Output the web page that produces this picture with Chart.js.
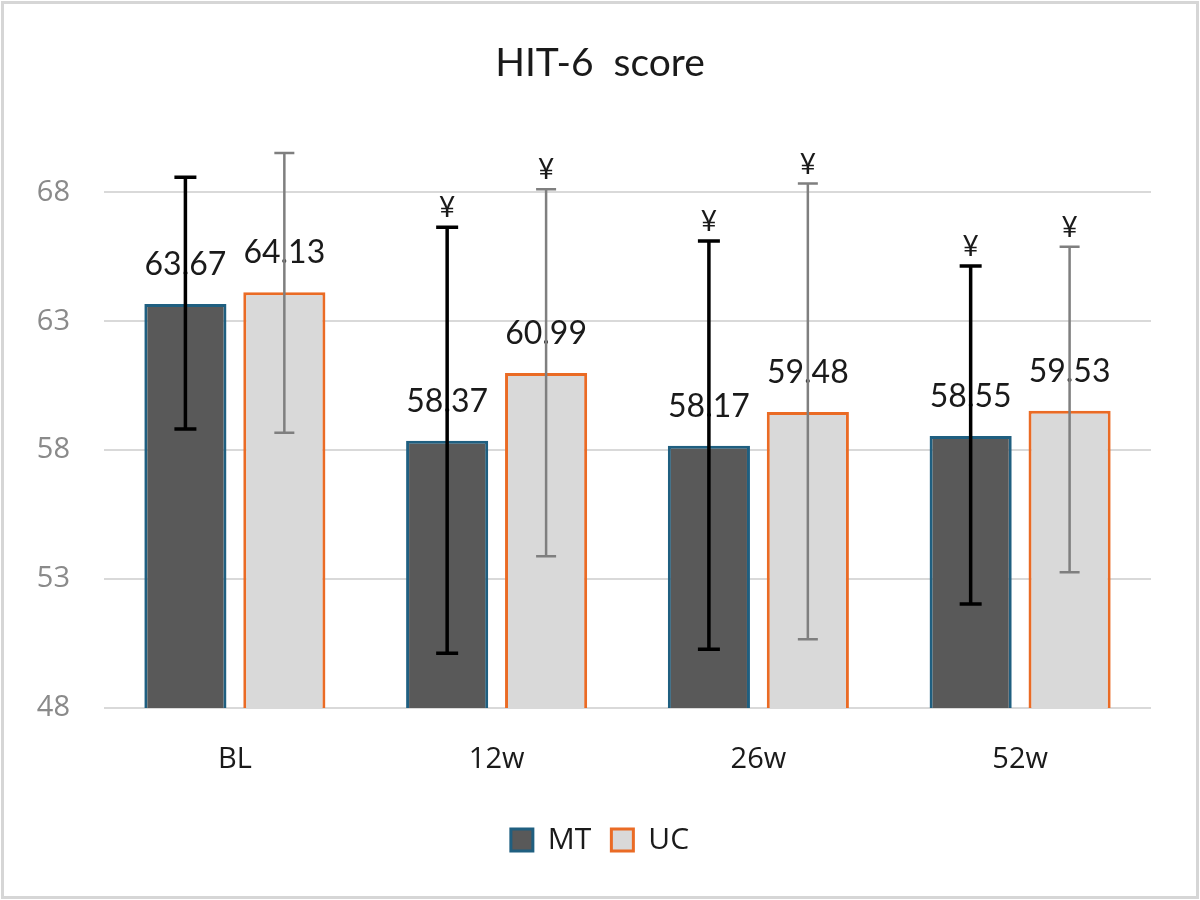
<!DOCTYPE html>
<html>
<head>
<meta charset="utf-8">
<title>HIT-6 score</title>
<script src="https://cdn.jsdelivr.net/npm/chart.js@4.4.1/dist/chart.umd.min.js"></script>
<style>
  html, body { margin: 0; padding: 0; background: #fff; }
  .wrap { position: relative; width: 1200px; height: 900px; }
  .wrap canvas { position: absolute; left: 0; top: 0; }
  .frame {
    position: absolute; left: 1px; top: 1px; width: 1192px; height: 892px;
    border: 3px solid #d6d6d6; pointer-events: none;
  }
</style>
</head>
<body>
<div class="wrap">
  <canvas id="chart-hit6" width="1200" height="900"></canvas>
  <div class="frame"></div>
</div>
<script>
  // values
  var CATEGORIES = ['BL', '12w', '26w', '52w'];
  var MT_MEAN = [63.67, 58.37, 58.17, 58.55];
  var UC_MEAN = [64.13, 60.99, 59.48, 59.53];
  var MT_LOW = [58.82, 50.12, 50.28, 52.03];
  var MT_HIGH = [68.59, 66.65, 66.11, 65.14];
  var UC_LOW = [58.68, 53.89, 50.67, 53.27];
  var UC_HIGH = [69.53, 68.12, 68.34, 65.89];
  var MT_MARK = ['', '¥', '¥', '¥'];
  var UC_MARK = ['', '¥', '¥', '¥'];
  var Y_TICKS = [48, 53, 58, 63, 68];

  var LABEL_FONT = 'Lato, "Open Sans", sans-serif';
  var AXIS_FONT = '"Open Sans", "Noto Sans", sans-serif';

  // value labels, then error bars and ¥ marks over them
  var barExtras = {
    id: 'barExtras',
    afterDatasetsDraw: function (chart) {
      var ctx = chart.ctx;
      var y = chart.scales.y;
      chart.data.datasets.forEach(function (ds, di) {
        var meta = chart.getDatasetMeta(di);
        meta.data.forEach(function (bar, i) {
          ctx.save();
          ctx.font = '32px ' + LABEL_FONT;
          ctx.fillStyle = '#1a1a1a';
          ctx.textAlign = 'center';
          ctx.textBaseline = 'middle';
          ctx.fillText(ds.data[i].toFixed(2), bar.x, bar.y - 39);
          ctx.restore();
        });
      });
      chart.data.datasets.forEach(function (ds, di) {
        var meta = chart.getDatasetMeta(di);
        var err = ds.errorBars;
        meta.data.forEach(function (bar, i) {
          var top = y.getPixelForValue(err.high[i]);
          var bot = y.getPixelForValue(err.low[i]);
          ctx.save();
          ctx.strokeStyle = err.color;
          ctx.lineWidth = err.width;
          ctx.beginPath();
          ctx.moveTo(bar.x, top);
          ctx.lineTo(bar.x, bot);
          ctx.moveTo(bar.x - err.cap, top);
          ctx.lineTo(bar.x + err.cap, top);
          ctx.moveTo(bar.x - err.cap, bot);
          ctx.lineTo(bar.x + err.cap, bot);
          ctx.stroke();
          if (err.marks[i]) {
            ctx.font = '28px ' + LABEL_FONT;
            ctx.fillStyle = '#1a1a1a';
            ctx.textAlign = 'center';
            ctx.textBaseline = 'middle';
            ctx.fillText(err.marks[i], bar.x, top - 19);
          }
          ctx.restore();
        });
      });
    }
  };

  new Chart(document.getElementById('chart-hit6'), {
    type: 'bar',
    data: {
      labels: CATEGORIES,
      datasets: [
        {
          label: 'MT',
          data: MT_MEAN,
          backgroundColor: '#595959',
          borderColor: '#1f5f80',
          borderWidth: 3,
          categoryPercentage: 0.756,
          barPercentage: 0.83,
          errorBars: { low: MT_LOW, high: MT_HIGH, marks: MT_MARK, color: '#000000', width: 3.5, cap: 11 }
        },
        {
          label: 'UC',
          data: UC_MEAN,
          backgroundColor: '#d9d9d9',
          borderColor: '#ea6b25',
          borderWidth: 3,
          categoryPercentage: 0.756,
          barPercentage: 0.83,
          errorBars: { low: UC_LOW, high: UC_HIGH, marks: UC_MARK, color: '#7f7f7f', width: 2.5, cap: 10 }
        }
      ]
    },
    options: {
      responsive: false,
      animation: false,
      devicePixelRatio: 1,
      layout: { padding: { left: 0, right: 0, top: 0, bottom: 35 } },
      plugins: {
        title: {
          display: true,
          text: 'HIT-6  score',
          color: '#1a1a1a',
          font: { family: LABEL_FONT, size: 39, weight: 'normal' },
          padding: { top: 40, bottom: 54 }
        },
        legend: {
          position: 'bottom',
          labels: {
            color: '#1a1a1a',
            font: { family: AXIS_FONT, size: 30 },
            boxWidth: 22,
            boxHeight: 22,
            padding: 20
          }
        },
        tooltip: { enabled: false }
      },
      scales: {
        x: {
          grid: { display: false },
          border: { display: false },
          ticks: { color: '#1a1a1a', font: { family: AXIS_FONT, size: 29 }, padding: 26 },
          afterFit: function (scale) { scale.height = 97; }
        },
        y: {
          min: 48,
          max: 70,
          afterBuildTicks: function (scale) {
            scale.ticks = Y_TICKS.map(function (v) { return { value: v }; });
          },
          grid: { color: '#d9d9d9', lineWidth: 2, drawTicks: false },
          border: { display: false },
          ticks: { color: '#8a8a8a', font: { family: AXIS_FONT, size: 29 }, padding: 34 },
          afterFit: function (scale) { scale.width = 104; }
        },
        // empty right axis, only reserves the right margin of the plot
        yRight: {
          position: 'right',
          min: 48,
          max: 70,
          grid: { display: false },
          border: { display: false },
          ticks: { display: false },
          afterFit: function (scale) { scale.width = 49; }
        }
      }
    },
    plugins: [barExtras]
  });
</script>
</body>
</html>
